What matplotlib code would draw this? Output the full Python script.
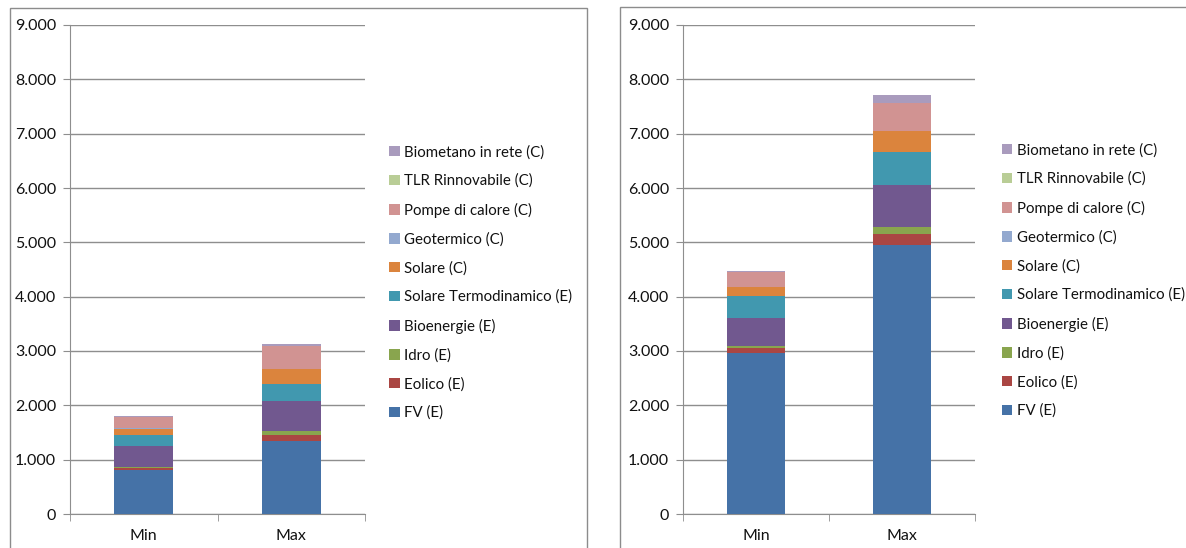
import matplotlib
matplotlib.use("Agg")
import matplotlib.pyplot as plt
from matplotlib.patches import Rectangle
from matplotlib.ticker import FuncFormatter, MultipleLocator

categories = ["Min", "Max"]
series = ["FV (E)", "Eolico (E)", "Idro (E)", "Bioenergie (E)",
          "Solare Termodinamico (E)", "Solare (C)", "Geotermico (C)",
          "Pompe di calore (C)", "TLR Rinnovabile (C)", "Biometano in rete (C)"]
colors = ["#4572A7", "#AA4643", "#89A54E", "#71588F", "#4198AF",
          "#DB843D", "#93A9CF", "#D19392", "#B9CD96", "#A99BBD"]

# left chart values (Min, Max)
left_fv = [810, 1344]
left_eolico = [42, 116]
left_idro = [19, 68]
left_bio = [380, 558]
left_soltermo = [200, 300]
left_solare = [120, 282]
left_geo = [5, 5]
left_pompe = [215, 418]
left_tlr = [0, 0]
left_biometano = [10, 30]

# right chart values (Min, Max)
right_fv = [2969, 4951]
right_eolico = [92, 208]
right_idro = [37, 123]
right_bio = [515, 773]
right_soltermo = [405, 602]
right_solare = [155, 393]
right_geo = [5, 5]
right_pompe = [276, 505]
right_tlr = [0, 0]
right_biometano = [25, 147]

left_data = [left_fv, left_eolico, left_idro, left_bio, left_soltermo,
             left_solare, left_geo, left_pompe, left_tlr, left_biometano]
right_data = [right_fv, right_eolico, right_idro, right_bio, right_soltermo,
              right_solare, right_geo, right_pompe, right_tlr, right_biometano]

plt.rcParams['font.family'] = ['Lato', 'DejaVu Sans']

W, H = 1186, 548
fig = plt.figure(figsize=(W / 100, H / 100), dpi=100)

# panel frames
fig.patches.append(Rectangle((10 / W, -0.01), (587 - 10) / W, 1 - 8 / H + 0.01,
                             transform=fig.transFigure, fill=False,
                             edgecolor="#8c8c8c", linewidth=1.0))
fig.patches.append(Rectangle((620 / W, -0.01), 1.0, 1 - 7 / H + 0.01,
                             transform=fig.transFigure, fill=False,
                             edgecolor="#8c8c8c", linewidth=1.0))

def fmt(v, pos):
    return f"{int(v):,}".replace(",", ".")

def draw(ax_rect, data, legend_xy):
    ax = fig.add_axes(ax_rect)
    x = list(range(len(categories)))
    bottom = [0] * len(categories)
    handles = []
    for vals, name, c in zip(data, series, colors):
        b = ax.bar(x, vals, width=0.4, bottom=bottom, color=c, label=name,
                   edgecolor="none", zorder=3)
        handles.append(b)
        bottom = [bo + v for bo, v in zip(bottom, vals)]
    ax.set_xlim(-0.5, 1.5)
    ax.set_ylim(0, 9000)
    ax.yaxis.set_major_locator(MultipleLocator(1000))
    ax.yaxis.set_major_formatter(FuncFormatter(fmt))
    ax.grid(axis="y", color="#8e8e8e", linewidth=1.0, zorder=0)
    ax.set_axisbelow(True)
    for s in ["top", "right"]:
        ax.spines[s].set_visible(False)
    for s in ["left", "bottom"]:
        ax.spines[s].set_color("#8e8e8e")
    ax.set_xticks(x)
    ax.set_xticklabels(categories)
    ax.set_xticks([-0.5, 0.5, 1.5], minor=True)
    ax.tick_params(axis="x", which="major", length=0, pad=11, labelsize=11.5,
                   colors="#111111")
    ax.tick_params(axis="x", which="minor", length=5, color="#8e8e8e")
    ax.tick_params(axis="y", length=5, color="#8e8e8e", labelsize=11.5,
                   labelcolor="#111111", pad=5)
    leg = fig.legend(handles[::-1], series[::-1], loc="upper left",
                     bbox_to_anchor=legend_xy, bbox_transform=fig.transFigure,
                     frameon=False, fontsize=10.8, handlelength=0.7,
                     handleheight=0.7, handletextpad=0.3, labelspacing=0.965,
                     borderpad=0, borderaxespad=0)
    for t in leg.get_texts():
        t.set_color("#111111")
    return ax

draw([70 / W, 1 - 514 / H, (365 - 70) / W, (514 - 25) / H], left_data,
     (389 / W, 1 - 145 / H))
draw([683 / W, 1 - 514 / H, (975 - 683) / W, (514 - 25) / H], right_data,
     (1002 / W, 1 - 143 / H))

fig.savefig("out.png", dpi=100)
